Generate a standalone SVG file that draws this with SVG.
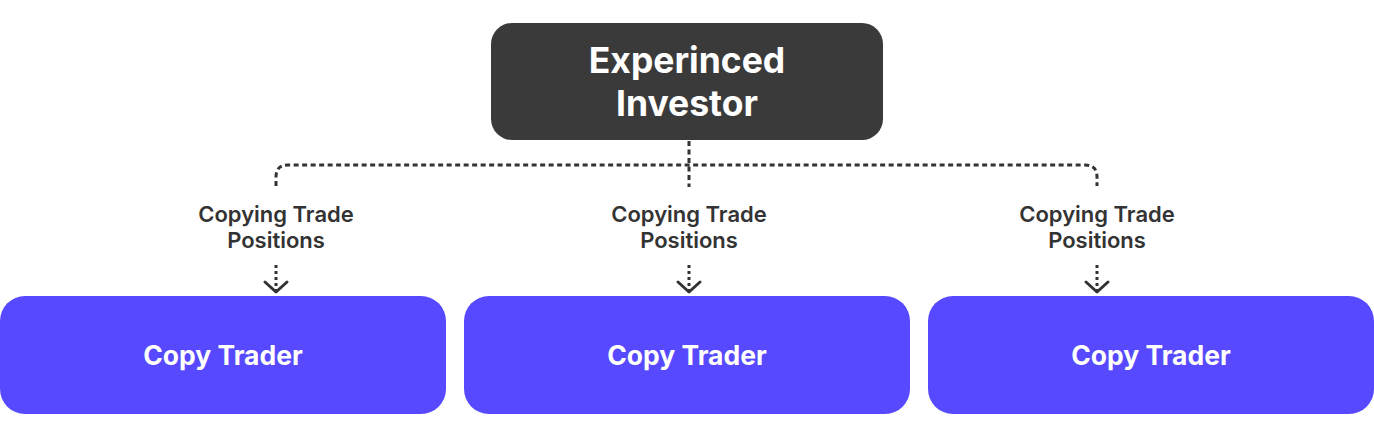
<svg xmlns="http://www.w3.org/2000/svg" width="1374" height="447" viewBox="0 0 1374 447">
<style>
.dash{fill:none;stroke:#333333;stroke-width:3;stroke-dasharray:5 3.5}
.sdash{fill:none;stroke:#333333;stroke-width:3;stroke-dasharray:3 3}
.chev{fill:none;stroke:#333333;stroke-width:3;stroke-linecap:round;stroke-linejoin:round}
.lbl{font-family:Inter,"Liberation Sans",sans-serif;font-size:22px;font-weight:600;fill:#333333;text-anchor:middle}
.top{font-family:Inter,"Liberation Sans",sans-serif;font-size:35.5px;font-weight:700;fill:#ffffff;text-anchor:middle}
.ct{font-family:Inter,"Liberation Sans",sans-serif;font-size:26.5px;font-weight:700;fill:#ffffff;text-anchor:middle}
.blue{fill:#5649FF}
</style>
<rect width="1374" height="447" fill="#ffffff"/>
<g id="connectors">
<path class="dash" d="M689 141 V187"/>
<path class="dash" d="M276 186 V177 Q276 165 288 165 H1085 Q1097 165 1097 177 V186"/>
<path class="sdash" d="M276 265 V290"/>
<path class="chev" d="M265 282 L276 292 L287 282"/>
<path class="sdash" d="M689 265 V290"/>
<path class="chev" d="M678 282 L689 292 L700 282"/>
<path class="sdash" d="M1097 265 V290"/>
<path class="chev" d="M1086 282 L1097 292 L1108 282"/>
<text class="lbl" x="276" y="222">Copying Trade</text>
<text class="lbl" x="276" y="248">Positions</text>
<text class="lbl" x="689" y="222">Copying Trade</text>
<text class="lbl" x="689" y="248">Positions</text>
<text class="lbl" x="1097" y="222">Copying Trade</text>
<text class="lbl" x="1097" y="248">Positions</text>
</g>
<g id="investor">
<rect x="491" y="23" width="392" height="117" rx="21" fill="#3a3a3a"/>
<text class="top" x="687" y="73">Experinced</text>
<text class="top" x="687" y="116">Investor</text>
</g>
<g id="trader1">
<rect class="blue" x="0" y="296" width="446" height="118" rx="25"/>
<text class="ct" x="223" y="365">Copy Trader</text>
</g>
<g id="trader2">
<rect class="blue" x="464" y="296" width="446" height="118" rx="25"/>
<text class="ct" x="687" y="365">Copy Trader</text>
</g>
<g id="trader3">
<rect class="blue" x="928" y="296" width="446" height="118" rx="25"/>
<text class="ct" x="1151" y="365">Copy Trader</text>
</g>
</svg>
